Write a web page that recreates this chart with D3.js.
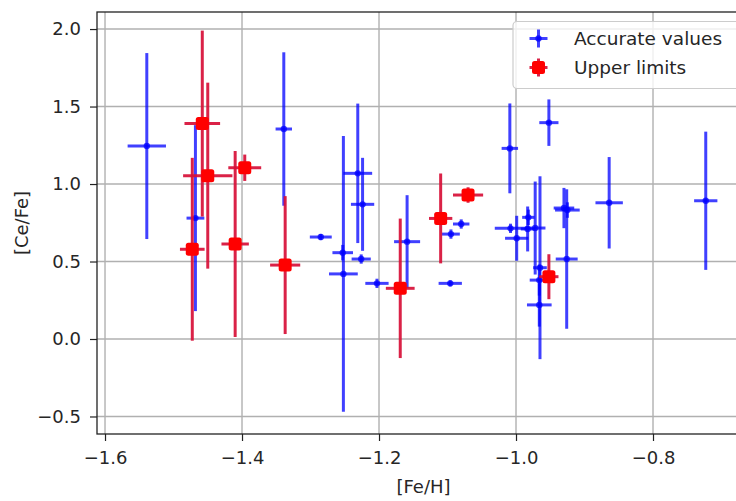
<!DOCTYPE html>
<html>
<head>
<meta charset="utf-8">
<script src="https://cdn.jsdelivr.net/npm/d3@7"></script>
<style>
  html, body { margin: 0; padding: 0; background: #fff; }
  svg { display: block; font-family: "DejaVu Sans", sans-serif; }
</style>
</head>
<body>
<svg id="chart" width="736" height="501"></svg>
<script>
// [Fe/H] vs [Ce/Fe] measurements with symmetric error bars
const accFeH  = [-1.539, -1.468, -1.339, -1.285, -1.253, -1.252, -1.231, -1.224, -1.226, -1.203,
                 -1.159, -1.096, -1.095, -1.080, -1.009, -1.008, -0.999, -0.982, -0.983, -0.972,
                 -0.965, -0.966, -0.966, -0.952, -0.930, -0.925, -0.926, -0.864, -0.723];
const accCeFe = [1.245, 0.780, 1.355, 0.658, 0.557, 0.420, 1.069, 0.869, 0.516, 0.359,
                 0.628, 0.359, 0.677, 0.742, 1.230, 0.714, 0.650, 0.785, 0.710, 0.716,
                 0.460, 0.380, 0.220, 1.396, 0.845, 0.832, 0.516, 0.879, 0.892];
const accXerr = [0.028, 0.013, 0.012, 0.016, 0.015, 0.021, 0.021, 0.017, 0.014, 0.017,
                 0.019, 0.017, 0.013, 0.012, 0.012, 0.023, 0.017, 0.009, 0.010, 0.015,
                 0.010, 0.014, 0.018, 0.014, 0.015, 0.018, 0.016, 0.020, 0.017];
const accYerr = [0.600, 0.600, 0.495, 0.020, 0.050, 0.890, 0.450, 0.300, 0.030, 0.030,
                 0.300, 0.020, 0.030, 0.030, 0.290, 0.030, 0.145, 0.050, 0.145, 0.300,
                 0.590, 0.100, 0.140, 0.150, 0.130, 0.050, 0.450, 0.295, 0.446];

const limFeH  = [-1.4726, -1.458, -1.450, -1.410, -1.396, -1.337, -1.169, -1.110, -1.070, -0.952];
const limCeFe = [0.579, 1.390, 1.054, 0.613, 1.105, 0.477, 0.327, 0.778, 0.929, 0.402];
const limXerr = [0.018, 0.026, 0.036, 0.020, 0.024, 0.022, 0.021, 0.017, 0.022, 0.014];
const limYerr = [0.590, 0.600, 0.600, 0.600, 0.085, 0.445, 0.450, 0.290, 0.050, 0.145];

const xTicks = [-1.6, -1.4, -1.2, -1.0, -0.8];
const yTicks = [-0.5, 0.0, 0.5, 1.0, 1.5, 2.0];
const seriesNames = ["Accurate values", "Upper limits"];

const svg = d3.select("#chart");
const plot = { left: 97, top: 12, right: 750, bottom: 434 };

const x = d3.scaleLinear().domain([-1.6117, -0.6584]).range([plot.left, plot.right]);
const y = d3.scaleLinear().domain([-0.613, 2.11]).range([plot.bottom, plot.top]);

const fmt = v => d3.format(".1f")(v).replace("-", "\u2212");
const textColor = "#262626";
const fontSize = "18px";

// grid
const grid = svg.append("g");
grid.selectAll("line.gx").data(xTicks).join("line")
  .attr("x1", d => x(d)).attr("x2", d => x(d))
  .attr("y1", plot.top).attr("y2", plot.bottom)
  .attr("stroke", "#b0b0b0").attr("stroke-width", 1.4);
grid.selectAll("line.gy").data(yTicks).join("line")
  .attr("y1", d => y(d)).attr("y2", d => y(d))
  .attr("x1", plot.left).attr("x2", plot.right)
  .attr("stroke", "#b0b0b0").attr("stroke-width", 1.4);

// axes
const xAxis = d3.axisBottom(x).tickValues(xTicks).tickFormat(fmt).tickSizeOuter(0).tickSize(7).tickPadding(10);
const yAxis = d3.axisLeft(y).tickValues(yTicks).tickFormat(fmt).tickSizeOuter(0).tickSize(7).tickPadding(9);

const gx = svg.append("g").attr("transform", `translate(0,${plot.bottom})`).call(xAxis);
const gy = svg.append("g").attr("transform", `translate(${plot.left},0)`).call(yAxis);
[gx, gy].forEach(g => {
  g.select(".domain").remove();
  g.selectAll(".tick line").attr("stroke", "#222").attr("stroke-width", 1.2);
  g.selectAll(".tick text").attr("fill", textColor).style("font-size", fontSize).style("font-family", "DejaVu Sans");
});

// spines
svg.append("rect")
  .attr("x", plot.left).attr("y", plot.top)
  .attr("width", plot.right - plot.left).attr("height", plot.bottom - plot.top)
  .attr("fill", "none").attr("stroke", "#222").attr("stroke-width", 1.3);

// axis titles
svg.append("text").attr("x", (plot.left + plot.right) / 2).attr("y", 493)
  .attr("text-anchor", "middle").attr("fill", textColor).style("font-size", fontSize)
  .text("[Fe/H]");
svg.append("text").attr("transform", `translate(28,${(plot.top + plot.bottom) / 2}) rotate(-90)`)
  .attr("text-anchor", "middle").attr("fill", textColor).style("font-size", fontSize)
  .text("[Ce/Fe]");

// series helpers
function rows(xs, ys, xe, ye) {
  return xs.map((v, i) => ({ x: v, y: ys[i], xe: xe[i], ye: ye[i] }));
}
const acc = rows(accFeH, accCeFe, accXerr, accYerr);
const lim = rows(limFeH, limCeFe, limXerr, limYerr);

const blue = "rgba(0,0,255,0.75)";
const crimson = "rgba(215,15,55,0.92)";
const lw = 3;

function drawBars(g, data, color) {
  g.selectAll("line.v").data(data).join("line").attr("class", "v")
    .attr("x1", d => x(d.x)).attr("x2", d => x(d.x))
    .attr("y1", d => y(d.y - d.ye)).attr("y2", d => y(d.y + d.ye))
    .attr("stroke", color).attr("stroke-width", lw);
  g.selectAll("line.h").data(data).join("line").attr("class", "h")
    .attr("x1", d => x(d.x - d.xe)).attr("x2", d => x(d.x + d.xe))
    .attr("y1", d => y(d.y)).attr("y2", d => y(d.y))
    .attr("stroke", color).attr("stroke-width", lw);
}

const gAcc = svg.append("g");
drawBars(gAcc, acc, blue);
gAcc.selectAll("circle").data(acc).join("circle")
  .attr("cx", d => x(d.x)).attr("cy", d => y(d.y)).attr("r", 3.2)
  .attr("fill", blue);

const gLim = svg.append("g");
drawBars(gLim, lim, crimson);
const ms = 13;
gLim.selectAll("rect").data(lim).join("rect")
  .attr("x", d => x(d.x) - ms / 2).attr("y", d => y(d.y) - ms / 2)
  .attr("width", ms).attr("height", ms).attr("rx", 2.5)
  .attr("fill", "#ff0000");

// legend
const leg = svg.append("g");
leg.append("rect").attr("x", 513).attr("y", 21.5).attr("width", 260).attr("height", 67)
  .attr("rx", 4).attr("fill", "rgba(255,255,255,0.8)").attr("stroke", "#cccccc").attr("stroke-width", 1.2);
const legRows = [
  { name: seriesNames[0], color: blue, cy: 38.5, kind: "acc" },
  { name: seriesNames[1], color: crimson, cy: 67.5, kind: "lim" }
];
legRows.forEach(r => {
  const cx = 538.5;
  leg.append("line").attr("x1", cx - 9).attr("x2", cx + 9).attr("y1", r.cy).attr("y2", r.cy)
    .attr("stroke", r.color).attr("stroke-width", lw);
  leg.append("line").attr("x1", cx).attr("x2", cx).attr("y1", r.cy - 9).attr("y2", r.cy + 9)
    .attr("stroke", r.color).attr("stroke-width", lw);
  if (r.kind === "acc") {
    leg.append("circle").attr("cx", cx).attr("cy", r.cy).attr("r", 3.2).attr("fill", blue);
  } else {
    leg.append("rect").attr("x", cx - ms / 2).attr("y", r.cy - ms / 2).attr("width", ms).attr("height", ms)
      .attr("rx", 2.5).attr("fill", "#ff0000");
  }
  leg.append("text").attr("x", 574).attr("y", r.cy).attr("dy", "0.35em")
    .attr("fill", textColor).style("font-size", "18.5px").text(r.name);
});
</script>
</body>
</html>
